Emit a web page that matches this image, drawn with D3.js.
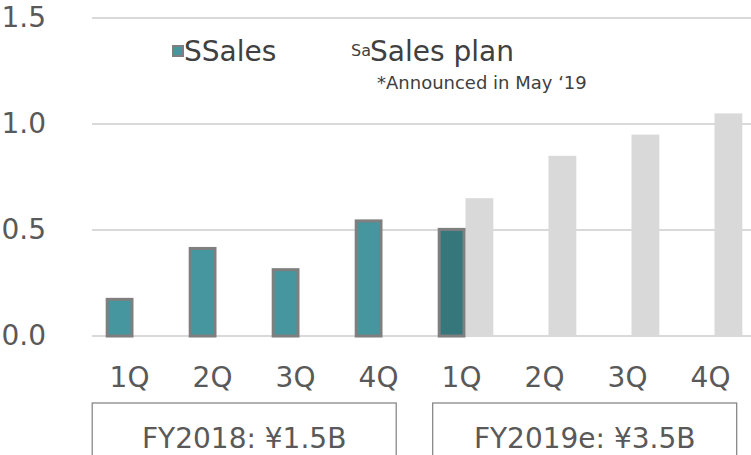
<!DOCTYPE html>
<html>
<head>
<meta charset="utf-8">
<script src="https://cdn.jsdelivr.net/npm/d3@7"></script>
<style>
  body { margin: 0; background: #fff; }
  svg { font-family: "DejaVu Sans", Verdana, sans-serif; }
</style>
</head>
<body>
<svg id="chart" width="751" height="455"></svg>
<script>
// quarters, two fiscal years
const categories = ["FY18-1Q", "FY18-2Q", "FY18-3Q", "FY18-4Q", "FY19-1Q", "FY19-2Q", "FY19-3Q", "FY19-4Q"];
const quarterLabels = ["1Q", "2Q", "3Q", "4Q", "1Q", "2Q", "3Q", "4Q"];
const sales = [0.18, 0.42, 0.32, 0.55, 0.51, null, null, null];
const salesPlan = [null, null, null, null, 0.65, 0.85, 0.95, 1.05];
const yTicks = [0, 0.5, 1.0, 1.5];
const groups = [
  { label: "FY2018: ¥1.5B", from: "FY18-1Q", to: "FY18-4Q" },
  { label: "FY2019e: ¥3.5B", from: "FY19-1Q", to: "FY19-4Q" }
];

const svg = d3.select("#chart");
const textColor = "#595959";
const bigFont = 28;

const y = d3.scaleLinear().domain([0, 1.5]).range([336, 18]);
const x = d3.scaleBand()
  .domain(categories)
  .range([92, 756])
  .paddingInner(0.33)
  .paddingOuter(0.165);
const sub = d3.scaleBand()
  .domain(["sales", "plan"])
  .range([0, x.bandwidth()]);

// gridlines
svg.append("g")
  .selectAll("line")
  .data(yTicks)
  .join("line")
  .attr("x1", 92)
  .attr("x2", 751)
  .attr("y1", d => y(d))
  .attr("y2", d => y(d))
  .attr("stroke", "#d9d9d9")
  .attr("stroke-width", 2);

// y axis labels
const yAxis = svg.append("g")
  .attr("transform", "translate(46,0)")
  .call(d3.axisLeft(y).tickValues(yTicks).tickFormat(d3.format(".1f")).tickSize(0).tickPadding(0));
yAxis.select(".domain").remove();
yAxis.selectAll("text")
  .attr("font-size", bigFont)
  .attr("font-family", "DejaVu Sans, Verdana, sans-serif")
  .attr("fill", textColor);

// plan bars
svg.append("g")
  .selectAll("rect")
  .data(categories.map((c, i) => ({ c, v: salesPlan[i] })).filter(d => d.v != null))
  .join("rect")
  .attr("x", d => x(d.c) + sub("plan"))
  .attr("y", d => y(d.v))
  .attr("width", sub.bandwidth())
  .attr("height", d => y(0) - y(d.v))
  .attr("fill", "#d9d9d9");

// sales bars
svg.append("g")
  .selectAll("rect")
  .data(categories.map((c, i) => ({ c, v: sales[i], i })).filter(d => d.v != null))
  .join("rect")
  .attr("x", d => x(d.c) + sub("sales") + 1.5)
  .attr("y", d => y(d.v) + 1.5)
  .attr("width", sub.bandwidth() - 3)
  .attr("height", d => y(0) - y(d.v) - 1.5)
  .attr("fill", d => d.i === 4 ? "#35777a" : "#45969e")
  .attr("stroke", "#7f7f7f")
  .attr("stroke-width", 3);

// quarter labels
const xAxis = svg.append("g")
  .attr("transform", "translate(-4,367)")
  .call(d3.axisBottom(x).tickFormat((d, i) => quarterLabels[i]).tickSize(0).tickPadding(0));
xAxis.select(".domain").remove();
xAxis.selectAll("text")
  .attr("font-size", bigFont)
  .attr("font-family", "DejaVu Sans, Verdana, sans-serif")
  .attr("fill", textColor);

// fiscal year boxes
const boxLeft = (d, i) => x(d.from) - (i === 0 ? 13.5 : 5);
const box = svg.append("g")
  .selectAll("g")
  .data(groups)
  .join("g");
box.append("rect")
  .attr("x", boxLeft)
  .attr("y", 403)
  .attr("width", 304)
  .attr("height", 80)
  .attr("fill", "none")
  .attr("stroke", "#7f7f7f")
  .attr("stroke-width", 1.2);
box.append("text")
  .attr("x", (d, i) => boxLeft(d, i) + 152)
  .attr("y", 448)
  .attr("text-anchor", "middle")
  .attr("font-size", bigFont)
  .attr("fill", textColor)
  .text(d => d.label);

// legend
const legend = svg.append("g");
legend.append("rect")
  .attr("x", 173)
  .attr("y", 46)
  .attr("width", 10)
  .attr("height", 10)
  .attr("fill", "#45969e")
  .attr("stroke", "#7f7f7f")
  .attr("stroke-width", 2);
legend.append("text")
  .attr("x", 184)
  .attr("y", 61)
  .attr("font-size", bigFont)
  .attr("fill", "#404040")
  .text("SSales");
legend.append("text")
  .attr("x", 351)
  .attr("y", 56)
  .attr("font-size", 16)
  .attr("fill", "#404040")
  .text("Sa");
legend.append("text")
  .attr("x", 370)
  .attr("y", 61)
  .attr("font-size", bigFont)
  .attr("fill", "#404040")
  .text("Sales plan");
legend.append("text")
  .attr("x", 377)
  .attr("y", 89)
  .attr("font-size", 18)
  .attr("fill", "#404040")
  .text("*Announced in May ‘19");
</script>
</body>
</html>
